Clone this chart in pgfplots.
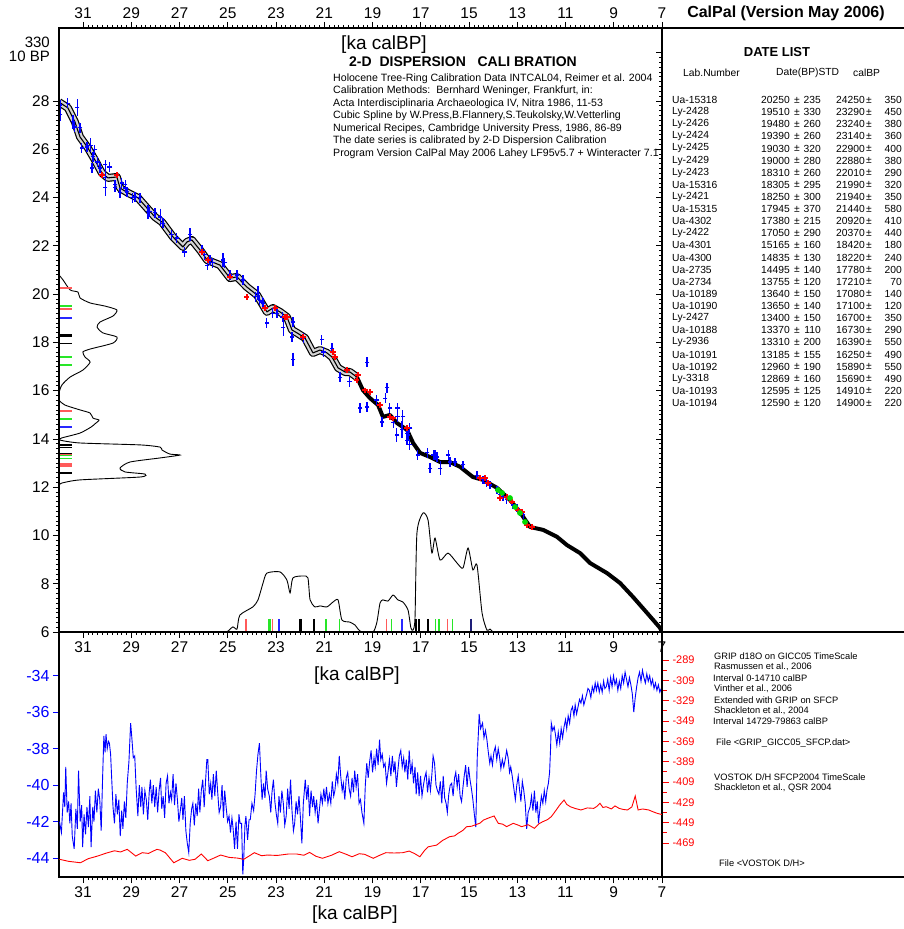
\documentclass[border=0pt]{standalone}
\usepackage{fontspec}
\setmainfont{Liberation Sans}
\usepackage{pgfplots}
\pgfplotsset{compat=1.18}
\usepackage{pgfplotstable}

\newcommand\fs[1]{\fontsize{#1}{#1}\selectfont}
\definecolor{dblue}{RGB}{0,0,255}
\definecolor{dred}{RGB}{255,0,0}
\definecolor{dgreen}{RGB}{0,220,0}
\definecolor{barred}{RGB}{255,90,90}
\definecolor{bargreen}{RGB}{40,230,40}
\definecolor{barblue}{RGB}{40,40,255}
\definecolor{barnavy}{RGB}{30,30,120}
\definecolor{bandgray}{RGB}{170,170,170}

% calibration curve, two parts (band / thick line)
\pgfplotstableread{
x y
32.00 27.95
31.63 27.71
31.34 27.13
31.13 26.51
30.80 26.05
30.51 25.55
30.22 25.01
29.97 24.81
29.60 24.85
29.47 24.39
29.14 24.19
28.72 23.98
28.35 23.56
28.02 23.19
27.73 22.98
27.27 22.36
26.86 21.95
26.69 22.16
26.49 22.24
26.15 21.82
25.86 21.41
25.33 21.20
24.91 20.66
24.62 20.71
24.21 20.29
23.79 19.96
23.38 19.26
23.13 19.42
22.84 19.26
22.55 19.05
22.34 18.51
22.13 18.39
21.80 18.18
21.47 17.56
21.18 17.68
20.89 17.56
20.68 17.39
20.43 16.94
20.14 16.77
19.94 16.77
19.65 16.56
}\calA
\pgfplotstableread{
x y
19.65 16.56
19.40 16.02
19.11 15.69
18.77 15.40
18.57 14.91
18.28 14.99
17.99 14.66
17.57 14.37
17.32 13.83
17.03 13.42
16.62 13.25
16.20 13.04
15.79 13.04
15.37 12.84
14.84 12.42
14.42 12.30
13.84 11.97
13.30 11.47
12.89 10.97
12.47 10.35
11.93 10.23
11.35 9.94
10.94 9.60
10.40 9.27
9.99 8.86
9.28 8.44
8.74 8.03
8.20 7.45
7.62 6.79
7.08 6.17
7.00 6.00
}\calB

% blue data points, grouped by the half height of their error bar
\pgfplotstableread{
x y
31.96 27.83
31.63 27.91
31.34 26.92
31.13 26.88
31.05 26.05
30.84 26.09
30.51 25.97
30.59 25.68
30.42 25.47
30.63 25.22
30.30 25.22
30.09 25.35
29.89 25.26
29.68 24.52
29.39 24.60
29.26 24.52
29.47 24.19
29.18 24.23
28.85 24.02
28.64 23.98
28.02 23.36
29.68 24.43
29.26 24.39
28.97 23.98
28.23 23.40
27.69 22.94
27.32 22.45
27.11 22.32
26.78 21.74
26.07 21.82
25.95 21.62
25.86 21.20
25.74 21.41
25.62 21.29
25.12 21.29
24.91 20.79
24.62 20.79
24.37 20.58
23.87 19.88
23.67 19.75
23.54 19.63
23.58 19.67
23.38 18.80
23.13 19.21
22.96 19.21
22.75 19.05
22.30 18.84
22.34 18.22
21.88 18.18
21.10 18.10
21.05 17.60
20.68 17.76
20.35 16.56
19.94 16.36
19.23 17.18
19.52 15.28
19.23 15.32
18.82 15.61
18.40 16.11
18.48 15.69
18.28 15.28
17.95 15.28
17.95 14.91
18.61 14.70
18.15 14.66
17.57 14.24
17.45 14.45
17.57 13.95
17.12 13.33
16.74 13.42
16.41 13.33
15.87 13.33
17.53 14.16
17.45 13.75
16.62 12.79
16.49 13.33
16.33 13.25
15.79 13.04
}\blueA
\pgfplotstableread{
x y
15.58 13.04
15.25 12.92
14.67 12.50
14.42 12.30
14.26 12.17
14.13 12.09
13.84 11.88
13.72 11.68
13.59 11.59
13.43 11.47
13.18 11.26
13.01 11.14
12.89 10.97
12.76 10.85
}\blueB
\pgfplotstableread{
x y
31.42 27.13
30.71 26.17
28.31 23.40
26.57 22.45
25.20 21.41
23.75 20.04
22.30 17.30
17.99 14.16
16.20 12.79
31.96 27.42
17.74 14.91
}\blueC
\pgfplotstableread{
x y
30.09 24.43
17.78 14.37
31.25 27.71
27.81 23.19
22.71 18.63
30.09 24.81
}\blueD

\pgfplotstableread{
x y
30.22 24.93
29.60 24.93
26.07 21.74
25.82 21.41
24.91 20.71
24.21 19.88
23.46 19.42
23.04 19.42
22.63 19.05
22.55 19.05
21.88 18.22
20.64 17.60
20.56 17.39
20.06 16.85
19.60 16.65
19.65 16.44
19.31 16.02
19.11 15.94
18.69 15.40
18.28 14.91
18.15 14.86
17.57 14.45
14.55 12.38
14.34 12.38
14.21 12.17
13.72 11.55
13.43 11.59
13.22 11.39
12.97 11.05
12.80 10.97
12.60 10.43
12.39 10.35
}\redpts

\begin{document}
\begin{tikzpicture}
\pgfplotsset{
  calx/.style={
    scale only axis, width=603pt, anchor=south west,
    x dir=reverse, xmin=7, xmax=32,
    axis line style={line width=1.1pt},
    tick style={line width=0.7pt, black},
    major tick length=6pt, minor tick length=3pt,
    tick align=outside,
    tick label style={font=\fs{15.5}},
    xtick={7,9,...,31},
    xticklabels={7,9,11,13,15,17,19,21,23,25,27,29,31},
    minor x tick num=9,
  },
  vbar/.style={only marks, mark=|, color=dblue, mark options={solid, line width=1.1pt, draw=dblue, fill=dblue}},
  hbar/.style={only marks, mark=-, mark size=2.4pt, color=dblue, mark options={solid, line width=1.1pt, draw=dblue, fill=dblue}},
  calmark/.style={only marks, mark=|, mark size=6.5pt, color=#1, mark options={line width=1.6pt, draw=#1}},
  bpmark/.style={only marks, mark=-, mark size=6pt, color=#1, mark options={line width=1.6pt, draw=#1}},
}
% ---------------- upper panel ----------------
\begin{axis}[calx, at={(59pt,297pt)}, height=604pt,
  ymin=6, ymax=31.02, xtick pos=left, ytick pos=left,
  ytick={6,8,...,28}, yticklabels={6,8,10,12,14,16,18,20,22,24,26,28},
  minor y tick num=9]
% calibration band
\addplot[black, line width=8pt, line join=round] table[x=x,y=y] {\calA};
\addplot[bandgray!50, line width=5.6pt, line join=round] table[x=x,y=y] {\calA};
\addplot[black, line width=1.1pt, line join=round] table[x=x,y=y] {\calA};
\addplot[black, line width=4pt, line join=round] table[x=x,y=y] {\calB};
% density along the BP axis
\addplot[black, line width=0.9pt, smooth, tension=0.4] table {
32.00 20.79
31.83 20.58
31.54 20.17
31.21 20.08
31.13 19.84
30.71 19.63
30.09 19.50
29.60 19.34
29.76 19.09
30.30 18.84
30.42 18.63
30.18 18.39
29.60 18.22
29.76 17.97
30.71 17.72
31.01 17.60
30.92 17.39
30.71 17.18
31.01 16.85
31.54 16.56
31.88 16.23
32.00 15.90
32.00 15.61
31.75 15.40
31.13 15.20
30.71 15.07
30.59 14.86
30.34 14.78
30.51 14.62
30.67 14.49
31.13 14.24
31.88 14.04
31.96 13.95
31.13 13.83
28.64 13.75
27.81 13.66
27.73 13.54
27.40 13.37
26.98 13.33
27.81 13.21
29.06 13.04
29.47 12.79
29.26 12.63
28.43 12.54
28.64 12.42
31.13 12.30
31.88 12.17
32.00 12.09
};
% density along the calBP axis
\addplot[black, line width=0.9pt, smooth, tension=0.4] table {
25.03 6.00
24.79 6.21
24.62 6.12
24.50 6.70
23.96 7.04
23.75 7.33
23.54 8.03
23.38 8.44
22.84 8.49
22.55 8.15
22.42 7.62
22.30 8.24
21.88 8.32
21.68 8.24
21.59 7.33
21.39 7.04
21.18 7.08
20.89 7.04
20.64 7.24
20.43 7.33
20.27 6.50
19.94 6.41
19.73 6.29
19.60 6.12
19.44 6.00
18.98 6.00
18.82 6.41
18.69 7.20
18.57 7.33
18.36 7.28
18.15 7.53
17.95 7.33
17.74 7.24
17.53 6.91
17.41 6.17
17.32 6.08
17.24 6.58
17.16 10.10
16.91 10.93
16.70 10.64
16.54 9.27
16.41 9.89
16.20 8.98
15.87 9.27
15.50 8.86
15.25 8.65
15.04 9.48
14.84 8.57
14.67 8.78
14.46 6.79
14.26 6.08
14.13 6.12
14.01 6.00
};
% date markers on the calBP axis
\addplot[calmark=barred] table {
24.25 6.27
23.14 6.27
18.42 6.27
16.73 6.27
15.89 6.27
};
\addplot[calmark=bargreen] table {
23.29 6.27
23.24 6.27
20.92 6.27
20.37 6.27
18.22 6.27
16.39 6.27
16.25 6.27
15.69 6.27
};
\addplot[calmark=barblue] table {
22.90 6.27
22.88 6.27
17.78 6.27
};
\addplot[calmark=black] table {
22.01 6.27
21.99 6.27
21.94 6.27
21.44 6.27
17.21 6.27
17.10 6.27
17.08 6.27
16.70 6.27
};
\addplot[calmark=barnavy] table {
14.91 6.27
14.90 6.27
};
% date markers on the BP axis
\addplot[bpmark=barred] table {
31.73 20.25
31.73 19.39
31.73 15.165
31.73 13.37
31.73 12.96
31.73 12.869
};
\addplot[bpmark=bargreen] table {
31.73 19.51
31.73 19.48
31.73 17.38
31.73 17.05
31.73 14.835
31.73 13.31
31.73 13.185
};
\addplot[bpmark=barblue] table {
31.73 19.03
31.73 19.00
31.73 14.495
};
\addplot[bpmark=black] table {
31.73 18.31
31.73 18.305
31.73 18.25
31.73 17.945
31.73 13.755
31.73 13.64
31.73 13.65
31.73 13.40
31.73 12.595
31.73 12.59
};
% blue data crosses
\addplot[vbar, mark size=4.8pt] table[x=x, y=y] {\blueA};
\addplot[vbar, mark size=3.6pt] table[x=x, y=y] {\blueB};
\addplot[vbar, mark size=6.6pt] table[x=x, y=y] {\blueC};
\addplot[vbar, mark size=8.5pt] table[x=x, y=y] {\blueD};
\addplot[hbar] table[x=x, y=y] {\blueA};
\addplot[hbar] table[x=x, y=y] {\blueB};
\addplot[hbar] table[x=x, y=y] {\blueC};
\addplot[hbar] table[x=x, y=y] {\blueD};
% red and green data
\addplot[only marks, mark=+, mark size=2.6pt, dred, mark options={line width=1.3pt}]
  table[x=x, y=y] {\redpts};
\addplot[only marks, mark=*, mark size=1.2pt, dred]
  table[x=x, y=y] {\redpts};
\addplot[only marks, mark=*, mark size=2.6pt, dgreen] table {
13.80 11.88
13.63 11.76
13.30 11.55
13.09 11.18
12.89 10.93
12.68 10.56
};
\end{axis}
% top tick labels
\begin{axis}[calx, at={(59pt,297pt)}, height=604pt, ymin=6, ymax=31.02,
  xtick pos=right, xticklabel pos=right, ytick=\empty]
\end{axis}
% right ticks, inside
\begin{axis}[calx, at={(59pt,297pt)}, height=604pt, ymin=6, ymax=31.02,
  xtick=\empty, ytick pos=right, tick align=inside,
  ytick={6,8,...,30}, yticklabels={,,,,,,,,,,,,}, minor y tick num=9]
\end{axis}

% ---------------- lower panel ----------------
\begin{axis}[calx, at={(59pt,52pt)}, height=245pt,
  ymin=-45.04, ymax=-31.6, xtick pos=left, ytick pos=left,
  ytick={-44,-42,...,-34}, yticklabels={-44,-42,-40,-38,-36,-34},
  y tick label style={dblue, font=\fs{16}}, y tick style={dblue, line width=0.8pt}]
\addplot[dblue, line width=0.9pt] table {
31.98 -42.0
31.90 -42.6
31.81 -40.4
31.76 -41.2
31.72 -39.0
31.66 -41.5
31.60 -40.9
31.55 -42.1
31.50 -41.0
31.45 -42.8
31.37 -43.5
31.30 -41.3
31.24 -42.4
31.19 -39.2
31.12 -42.0
31.06 -41.1
31.02 -43.4
30.96 -41.6
30.90 -42.7
30.84 -41.2
30.78 -42.3
30.72 -40.6
30.67 -43.4
30.60 -41.2
30.55 -42.0
30.49 -40.3
30.43 -41.5
30.37 -40.2
30.31 -40.8
30.25 -42.5
30.19 -39.5
30.14 -37.3
30.09 -38.2
30.05 -37.2
30.00 -38.0
29.95 -37.6
29.91 -37.7
29.86 -38.3
29.82 -39.5
29.76 -41.2
29.70 -42.1
29.64 -40.5
29.58 -41.6
29.52 -40.8
29.46 -42.8
29.40 -41.4
29.35 -42.4
29.29 -40.9
29.23 -41.8
29.17 -39.9
29.10 -38.7
29.03 -36.6
28.98 -37.4
28.92 -38.5
28.86 -38.4
28.80 -40.2
28.73 -41.7
28.67 -40.0
28.61 -41.2
28.56 -40.1
28.50 -41.6
28.44 -40.3
28.38 -40.8
28.32 -41.9
28.26 -40.4
28.21 -39.7
28.15 -41.0
28.09 -40.0
28.03 -41.2
27.97 -40.1
27.91 -41.5
27.85 -40.3
27.79 -39.6
27.74 -41.3
27.68 -40.6
27.62 -41.8
27.56 -39.9
27.50 -39.5
27.44 -41.0
27.38 -40.4
27.33 -40.8
27.27 -39.4
27.21 -41.1
27.15 -39.9
27.09 -40.8
27.03 -42.0
26.97 -41.4
26.91 -40.7
26.86 -41.9
26.80 -40.6
26.74 -42.5
26.68 -43.2
26.62 -43.7
26.56 -42.1
26.50 -41.3
26.45 -41.0
26.39 -42.2
26.33 -41.0
26.27 -41.7
26.21 -40.2
26.16 -41.5
26.10 -40.3
26.04 -39.7
25.98 -41.2
25.92 -39.7
25.87 -38.6
25.83 -38.6
25.77 -40.5
25.71 -39.9
25.66 -40.8
25.60 -39.4
25.54 -40.6
25.48 -39.2
25.42 -40.4
25.36 -41.5
25.30 -41.2
25.24 -40.0
25.18 -41.8
25.13 -40.3
25.07 -41.2
25.01 -42.0
24.95 -41.7
24.89 -42.6
24.83 -41.8
24.78 -42.4
24.72 -43.5
24.66 -42.0
24.60 -43.5
24.54 -41.6
24.49 -42.1
24.43 -42.1
24.38 -44.9
24.34 -44.0
24.29 -42.2
24.25 -41.7
24.18 -43.0
24.12 -41.9
24.07 -41.9
24.00 -41.0
23.93 -41.4
23.87 -40.5
23.81 -39.2
23.75 -38.3
23.69 -37.7
23.63 -39.5
23.58 -40.8
23.52 -39.9
23.46 -40.7
23.41 -39.2
23.35 -40.2
23.28 -40.6
23.22 -41.5
23.17 -40.4
23.11 -39.7
23.05 -40.9
22.99 -41.6
22.93 -42.1
22.88 -40.6
22.82 -41.5
22.76 -40.3
22.70 -41.0
22.64 -42.2
22.58 -41.7
22.52 -40.2
22.46 -41.3
22.40 -39.7
22.34 -41.4
22.28 -42.5
22.23 -42.1
22.17 -40.9
22.11 -41.6
22.05 -40.6
21.99 -41.8
21.93 -43.2
21.87 -41.0
21.79 -39.7
21.73 -40.8
21.67 -40.0
21.61 -41.7
21.55 -40.3
21.49 -41.2
21.44 -40.6
21.38 -41.5
21.32 -40.8
21.26 -42.1
21.20 -41.3
21.14 -40.5
21.08 -41.0
21.02 -40.2
20.97 -40.9
20.91 -40.1
20.85 -41.0
20.79 -40.5
20.73 -41.0
20.67 -39.8
20.61 -40.6
20.56 -40.3
20.50 -39.4
20.44 -39.9
20.38 -38.4
20.32 -39.5
20.26 -40.3
20.21 -39.9
20.15 -40.8
20.09 -39.6
20.03 -39.3
19.97 -40.2
19.91 -40.6
19.85 -39.6
19.79 -40.4
19.74 -39.2
19.68 -40.1
19.62 -39.4
19.56 -41.0
19.50 -40.8
19.44 -41.5
19.36 -42.1
19.30 -40.0
19.24 -38.8
19.18 -39.6
19.12 -38.7
19.06 -38.1
19.00 -39.3
18.94 -38.5
18.89 -39.0
18.83 -38.0
18.77 -38.9
18.71 -37.5
18.66 -38.6
18.60 -38.3
18.54 -39.0
18.48 -38.8
18.42 -39.9
18.36 -39.3
18.30 -38.6
18.24 -39.5
18.18 -38.4
18.12 -39.3
18.07 -38.7
18.01 -40.1
17.95 -39.2
17.89 -38.4
17.83 -38.1
17.77 -39.0
17.71 -38.5
17.66 -39.3
17.60 -38.6
17.54 -39.7
17.48 -38.1
17.42 -39.4
17.36 -38.8
17.30 -39.9
17.24 -39.0
17.19 -40.5
17.13 -39.3
17.07 -40.6
17.01 -39.5
16.95 -40.6
16.89 -40.0
16.84 -39.6
16.78 -39.3
16.72 -40.4
16.66 -39.6
16.60 -40.3
16.54 -39.4
16.49 -38.4
16.43 -38.8
16.37 -40.0
16.31 -40.3
16.25 -40.5
16.19 -39.8
16.13 -41.0
16.07 -39.5
16.01 -40.7
15.95 -41.0
15.90 -41.5
15.84 -40.5
15.78 -40.0
15.72 -39.9
15.66 -40.6
15.60 -39.6
15.55 -39.3
15.49 -40.1
15.43 -39.4
15.37 -40.6
15.31 -40.9
15.25 -40.1
15.20 -39.5
15.14 -38.9
15.08 -40.1
15.02 -39.0
14.96 -39.7
14.90 -40.2
14.84 -40.8
14.78 -41.6
14.72 -42.3
14.66 -38.5
14.60 -36.8
14.58 -36.1
14.52 -36.9
14.44 -36.6
14.38 -37.4
14.32 -37.0
14.26 -37.5
14.20 -38.2
14.14 -38.8
14.09 -38.4
14.03 -38.9
13.97 -38.2
13.91 -37.9
13.85 -38.6
13.79 -38.0
13.74 -38.4
13.68 -39.1
13.62 -38.6
13.56 -39.0
13.50 -38.6
13.44 -38.1
13.38 -38.5
13.32 -39.3
13.27 -39.0
13.21 -39.5
13.15 -40.1
13.08 -40.8
13.02 -40.0
12.96 -39.5
12.91 -40.2
12.85 -40.9
12.79 -39.8
12.73 -40.3
12.67 -41.0
12.61 -42.4
12.55 -41.5
12.47 -41.2
12.41 -40.6
12.35 -41.4
12.29 -40.3
12.23 -41.5
12.17 -40.9
12.12 -42.1
12.06 -41.3
12.00 -40.6
11.94 -41.0
11.88 -40.3
11.82 -40.9
11.77 -40.3
11.71 -39.9
11.66 -39.3
11.62 -38.0
11.59 -36.6
11.53 -37.0
11.47 -36.8
11.42 -37.2
11.36 -37.8
11.30 -37.1
11.24 -37.7
11.18 -36.9
11.12 -37.4
11.06 -36.8
11.00 -36.4
10.95 -36.9
10.89 -36.2
10.83 -36.6
10.77 -35.9
10.71 -35.7
10.65 -36.2
10.60 -35.6
10.54 -36.1
10.48 -35.7
10.42 -35.3
10.36 -35.5
10.30 -35.1
10.24 -35.6
10.18 -35.3
10.12 -35.0
10.07 -34.7
10.01 -34.8
9.95 -35.2
9.89 -34.6
9.83 -34.9
9.77 -34.4
9.72 -34.8
9.66 -34.4
9.60 -34.9
9.54 -34.5
9.48 -34.9
9.42 -34.3
9.37 -34.7
9.31 -34.6
9.25 -34.2
9.19 -34.8
9.13 -34.1
9.07 -34.6
9.01 -34.0
8.95 -34.5
8.89 -34.2
8.83 -34.8
8.77 -34.3
8.71 -34.7
8.65 -34.0
8.59 -34.4
8.53 -33.8
8.47 -34.2
8.41 -34.6
8.35 -34.1
8.29 -34.5
8.23 -35.0
8.17 -36.0
8.11 -35.2
8.05 -34.6
7.99 -34.1
7.93 -33.8
7.87 -34.3
7.81 -33.7
7.75 -34.1
7.69 -34.4
7.63 -33.9
7.57 -34.3
7.51 -34.0
7.45 -34.5
7.39 -34.2
7.33 -34.7
7.27 -34.4
7.21 -34.8
7.15 -34.5
7.09 -34.9
7.03 -34.7
};
\end{axis}
% VOSTOK D/H on the right scale
\begin{axis}[scale only axis, width=603pt, height=245pt, at={(59pt,52pt)}, anchor=south west,
  x dir=reverse, xmin=7, xmax=32, ymin=-502.4, ymax=-261.5,
  axis x line=none, axis y line*=right,
  axis line style={line width=1.1pt, black},
  ytick={-469,-449,...,-289},
  yticklabels={-469,-449,-429,-409,-389,-369,-349,-329,-309,-289},
  minor y tick num=1, tick align=outside,
  major tick length=7pt, minor tick length=5pt,
  y tick label style={dred, font=\fs{11}},
  y tick style={dred, line width=0.9pt}]
\addplot[dred, line width=0.9pt] table {
31.98 -485.0
31.60 -487.0
31.11 -488.4
30.80 -484.5
30.40 -481.8
30.05 -479.0
29.70 -476.6
29.45 -477.8
29.17 -475.2
28.82 -481.8
28.55 -478.5
28.29 -479.2
27.94 -475.2
27.80 -476.0
27.59 -478.5
27.24 -488.4
26.89 -484.0
26.60 -486.0
26.36 -485.0
26.10 -479.8
25.83 -486.4
25.55 -483.5
25.30 -480.8
24.95 -483.1
24.60 -483.8
24.34 -485.0
24.10 -481.5
23.90 -478.5
23.60 -481.5
23.37 -480.8
22.95 -481.2
22.49 -479.8
22.14 -479.8
21.85 -481.0
21.61 -478.2
21.35 -482.0
21.08 -484.0
20.70 -481.0
20.38 -477.5
20.10 -480.0
19.85 -482.5
19.55 -479.5
19.33 -480.1
18.97 -484.0
18.70 -481.0
18.45 -478.5
18.10 -478.8
17.75 -478.5
17.48 -476.9
17.25 -479.5
17.04 -482.5
16.85 -476.5
16.69 -472.7
16.34 -471.0
16.10 -466.5
15.81 -462.8
15.60 -462.0
15.46 -459.5
15.25 -456.5
15.11 -453.0
14.90 -452.5
14.76 -451.3
14.55 -449.5
14.40 -446.4
14.15 -444.0
13.96 -442.4
13.79 -449.6
13.60 -450.5
13.44 -452.9
13.17 -449.6
12.95 -451.5
12.82 -452.9
12.55 -451.0
12.29 -454.5
12.10 -450.0
11.94 -448.0
11.75 -446.0
11.59 -443.1
11.40 -437.0
11.24 -431.6
11.06 -426.7
10.95 -431.0
10.80 -433.3
10.60 -435.0
10.36 -436.5
10.10 -434.5
9.83 -434.9
9.70 -433.0
9.57 -430.0
9.45 -434.0
9.31 -433.3
9.10 -435.5
8.95 -432.5
8.78 -434.9
8.60 -436.0
8.43 -436.5
8.25 -433.5
8.11 -422.8
7.99 -436.5
7.80 -435.5
7.55 -436.5
7.40 -438.0
7.20 -439.8
7.00 -441.0
};
\end{axis}

% ---------------- text and frame ----------------
\begin{scope}[x=1pt, y=1pt]
\draw[line width=1.1pt] (662,901) -- (904,901);
\draw[line width=1.1pt] (662,297) -- (904,297);
\draw[line width=1.1pt] (662,52) -- (904,52);

\node[anchor=east, font=\fs{15}, inner sep=0pt] at (50,887) {330};
\node[anchor=east, font=\fs{15}, inner sep=0pt] at (50,873) {10 BP};

\node[font=\fs{19}, inner sep=0pt] at (384,884) {[ka calBP]};
\node[font=\bfseries\fs{14}, inner sep=0pt] at (463,867) {2-D\ \ DISPERSION\ \ \ CALI BRATION};
\begin{scope}[every node/.style={anchor=west, font=\fs{10.6}, inner sep=0pt}]
\node at (333,850.7) {Holocene Tree-Ring Calibration Data INTCAL04, Reimer et al. 2004};
\node at (333,838) {Calibration Methods:\ \ Bernhard Weninger, Frankfurt, in:};
\node at (333,825) {Acta Interdisciplinaria Archaeologica IV, Nitra 1986, 11-53};
\node at (333,813) {Cubic Spline by W.Press,B.Flannery,S.Teukolsky,W.Vetterling};
\node at (333,800) {Numerical Recipes, Cambridge University Press, 1986, 86-89};
\node at (333,788) {The date series is calibrated by 2-D Dispersion Calibration};
\node at (333,775) {Program Version CalPal May 2006 Lahey LF95v5.7 + Winteracter 7.1};
\end{scope}

\node[font=\fs{19}, inner sep=0pt] at (357,253) {[ka calBP]};
\node[font=\fs{19}, inner sep=0pt] at (355,14) {[ka calBP]};

\node[font=\bfseries\fs{16}, inner sep=0pt] at (786,916) {CalPal (Version May 2006)};
\node[font=\bfseries\fs{13}, inner sep=0pt] at (777,877) {DATE LIST};
\begin{scope}[every node/.style={font=\fs{10.3}, inner sep=0pt}]
\node[anchor=west] at (683,856) {Lab.Number};
\node[anchor=west] at (776,856) {Date(BP)STD};
\node[anchor=west] at (853,856) {calBP};
\foreach \lab/\bp/\bs/\cal/\cs [count=\i from 0] in {
  Ua-15318/20250/235/24250/350, Ly-2428/19510/330/23290/450,
  Ly-2426/19480/260/23240/380, Ly-2424/19390/260/23140/360,
  Ly-2425/19030/320/22900/400, Ly-2429/19000/280/22880/380,
  Ly-2423/18310/260/22010/290, Ua-15316/18305/295/21990/320,
  Ly-2421/18250/300/21940/350, Ua-15315/17945/370/21440/580,
  Ua-4302/17380/215/20920/410, Ly-2422/17050/290/20370/440,
  Ua-4301/15165/160/18420/180, Ua-4300/14835/130/18220/240,
  Ua-2735/14495/140/17780/200, Ua-2734/13755/120/17210/70,
  Ua-10189/13640/150/17080/140, Ua-10190/13650/140/17100/120,
  Ly-2427/13400/150/16700/350, Ua-10188/13370/110/16730/290,
  Ly-2936/13310/200/16390/550, Ua-10191/13185/155/16250/490,
  Ua-10192/12960/190/15890/550, Ly-3318/12869/160/15690/490,
  Ua-10193/12595/125/14910/220, Ua-10194/12590/120/14900/220}
{
  \pgfmathsetmacro\yy{829-12.12*\i}
  \node[anchor=west] at (672,\yy) {\lab};
  \node[anchor=west] at (761,\yy) {\bp};
  \node[anchor=west] at (794,\yy) {±};
  \node[anchor=east] at (821,\yy) {\bs};
  \node[anchor=west] at (836,\yy) {\cal};
  \node[anchor=west] at (866,\yy) {±};
  \node[anchor=east] at (902,\yy) {\cs};
}
\end{scope}

\begin{scope}[every node/.style={anchor=west, font=\fs{9.3}, inner sep=0pt}]
\node at (714,273) {GRIP d18O on GICC05 TimeScale};
\node at (714,262) {Rasmussen et al., 2006};
\node at (713,251) {Interval 0-14710 calBP};
\node at (714,240) {Vinther et al., 2006};
\node at (714,229) {Extended with GRIP on SFCP};
\node at (714,218) {Shackleton et al., 2004};
\node at (713,208) {Interval 14729-79863 calBP};
\node at (716,186) {File <GRIP\_GICC05\_SFCP.dat>};
\node at (714,152) {VOSTOK D/H SFCP2004 TimeScale};
\node at (714,141) {Shackleton et al., QSR 2004};
\node at (719,66) {File <VOSTOK D/H>};
\end{scope}

\pgfresetboundingbox
\path (0,0) rectangle (904,929);
\end{scope}
\end{tikzpicture}
\end{document}
